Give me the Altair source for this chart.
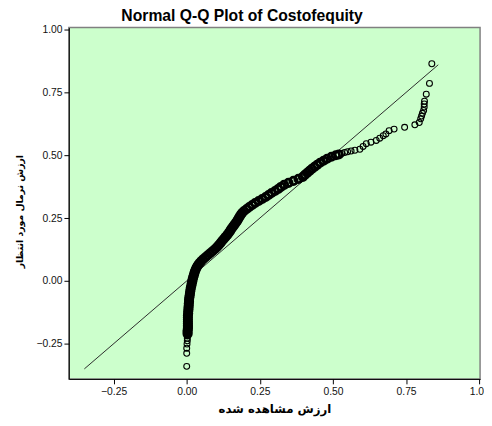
import altair as alt
import pandas as pd

obs_x = [
    0.000, 0.000, 0.000, 0.001, 0.002, 0.002, 0.003, 0.003,
    0.003, 0.003, 0.004, 0.004, 0.004, 0.004, 0.004, 0.004, 0.004, 0.004,
    0.005, 0.005, 0.006, 0.006, 0.007, 0.007, 0.008, 0.008, 0.009, 0.010,
    0.011, 0.012, 0.013, 0.014, 0.016, 0.017, 0.019, 0.020, 0.022, 0.024,
    0.026, 0.028, 0.031, 0.034, 0.038, 0.043, 0.049, 0.056, 0.064, 0.072,
    0.080, 0.088, 0.096, 0.103, 0.109, 0.115, 0.120, 0.126, 0.132, 0.138,
    0.143, 0.148, 0.152, 0.157, 0.162, 0.167, 0.172, 0.176, 0.180, 0.184,
    0.189, 0.196, 0.205, 0.214, 0.224, 0.234, 0.246, 0.258, 0.270, 0.280,
    0.290, 0.302, 0.313, 0.322, 0.333, 0.348, 0.365, 0.382, 0.397, 0.404,
    0.412, 0.420, 0.428, 0.437, 0.446, 0.456, 0.468, 0.480, 0.495, 0.510,
    0.520, 0.530, 0.540, 0.550, 0.562, 0.575, 0.592, 0.603, 0.614, 0.630,
    0.648, 0.660, 0.672, 0.681, 0.692, 0.709, 0.745, 0.780, 0.795, 0.800,
    0.803, 0.806, 0.810, 0.812, 0.812, 0.813, 0.819, 0.830, 0.838,
]
exp_y = [
    -0.340, -0.288, -0.268, -0.251, -0.238, -0.228, -0.219, -0.211,
    -0.204, -0.197, -0.190, -0.183, -0.176, -0.169, -0.162, -0.154, -0.146, -0.138,
    -0.130, -0.122, -0.114, -0.106, -0.098, -0.090, -0.082, -0.074, -0.066, -0.058,
    -0.050, -0.042, -0.034, -0.026, -0.018, -0.010, -0.002, 0.006, 0.014, 0.022,
    0.030, 0.038, 0.046, 0.054, 0.062, 0.070, 0.078, 0.086, 0.094, 0.102,
    0.110, 0.118, 0.126, 0.134, 0.142, 0.150, 0.158, 0.166, 0.174, 0.182,
    0.190, 0.198, 0.206, 0.214, 0.222, 0.230, 0.238, 0.246, 0.254, 0.262,
    0.270, 0.278, 0.286, 0.294, 0.302, 0.310, 0.318, 0.326, 0.334, 0.342,
    0.350, 0.358, 0.366, 0.374, 0.382, 0.390, 0.398, 0.406, 0.414, 0.422,
    0.430, 0.438, 0.446, 0.454, 0.462, 0.470, 0.478, 0.486, 0.494, 0.500,
    0.503, 0.507, 0.511, 0.514, 0.517, 0.520, 0.524, 0.535, 0.546, 0.552,
    0.559, 0.568, 0.578, 0.585, 0.598, 0.604, 0.611, 0.621, 0.630, 0.645,
    0.656, 0.667, 0.678, 0.692, 0.704, 0.715, 0.743, 0.786, 0.864,
]

# Reference line (y = x) end points
line_x = [-0.35, 0.86]
line_y = [-0.35, 0.86]

tick_vals = [-0.25, 0.0, 0.25, 0.5, 0.75, 1.0]

pts = pd.DataFrame({"x": obs_x, "y": exp_y})
# the crowded middle of the curve is drawn as one solid band in the reference
pts["crowded"] = (pts["y"] > -0.215) & (pts["y"] < 0.505)
ln = pd.DataFrame({"x": line_x, "y": line_y})

xs = alt.Scale(domain=[-0.403, 1.003], nice=False, zero=False)
ys = alt.Scale(domain=[-0.39, 1.008], nice=False, zero=False)

xax = alt.Axis(values=tick_vals, format=".2f", title="ارزش مشاهده شده",
               titleFont="DejaVu Sans", titleFontSize=12, titleFontWeight="bold",
               titlePadding=7, labelFlush=False)
yax = alt.Axis(values=tick_vals, format=".2f", title="ارزش نرمال مورد انتظار",
               titleFont="DejaVu Sans", titleFontSize=9.5, titleFontWeight="bold",
               titlePadding=12, labelFlush=False, titleY=187)

enc = dict(
    x=alt.X("x:Q", scale=xs, axis=xax),
    y=alt.Y("y:Q", scale=ys, axis=yax),
)

line = alt.Chart(ln).mark_line(color="#2a2a2a", strokeWidth=1).encode(**enc)

sparse = alt.Chart(pts).transform_filter("!datum.crowded").mark_point(
    shape="circle", filled=False, size=36, color="black", strokeWidth=1.1, opacity=1
).encode(**enc)

crowded = alt.Chart(pts).transform_filter("datum.crowded").mark_point(
    shape="circle", filled=False, size=56, color="black", strokeWidth=2.8, opacity=1
).encode(**enc)

chart = alt.layer(line, sparse, crowded).properties(
    width=419,
    height=358,
    title=alt.TitleParams(
        "Normal Q-Q Plot of Costofequity",
        font="Liberation Sans", fontSize=16, fontWeight="bold", color="black",
        anchor="middle", frame="group", dx=-33, offset=1,
    ),
    autosize=alt.AutoSizeParams(type="none"),
    padding={"left": 62, "top": 16, "right": 4, "bottom": 44},
).configure_view(
    fill="#ccffcc", stroke="#808080", strokeWidth=1.5
).configure_axis(
    grid=False, domainColor="black", tickColor="black", tickSize=5,
    labelFont="Liberation Sans", labelFontSize=10.5, labelColor="#111111",
    labelPadding=2, titleColor="black",
).configure_axisX(labelPadding=3)

chart.save("out.html", embed_options={"renderer": "svg", "actions": False})
